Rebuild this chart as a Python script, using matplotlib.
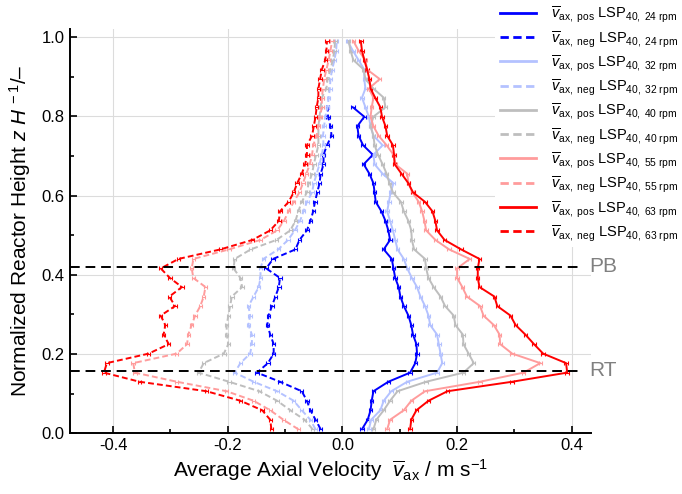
import matplotlib
matplotlib.use("Agg")
import matplotlib.pyplot as plt
from matplotlib.ticker import MultipleLocator

plt.rcParams['font.family'] = ['Liberation Sans', 'DejaVu Sans']
plt.rcParams['mathtext.fontset'] = 'custom'
plt.rcParams['mathtext.rm'] = 'Liberation Sans'
plt.rcParams['mathtext.it'] = 'Liberation Sans:italic'
plt.rcParams['mathtext.bf'] = 'Liberation Sans:bold'

# normalized heights of measurement planes
z = [0.010, 0.034, 0.058, 0.082, 0.106, 0.130, 0.153, 0.177, 0.201, 0.225,
     0.249, 0.273, 0.297, 0.321, 0.345, 0.369, 0.392, 0.416, 0.440, 0.464,
     0.488, 0.512, 0.536, 0.560, 0.584, 0.608, 0.631, 0.655, 0.679, 0.703,
     0.727, 0.751, 0.775, 0.799, 0.823, 0.847, 0.870, 0.894, 0.918, 0.942,
     0.966, 0.990]

pos24 = [0.034, 0.044, 0.049, 0.051, 0.054, 0.080, 0.118, 0.127, 0.130, 0.129,
         0.123, 0.120, 0.115, 0.107, 0.101, 0.098, 0.092, 0.089, 0.086, 0.072,
         0.083, 0.080, 0.075, 0.068, 0.058, 0.056, 0.054, 0.047, 0.037, 0.053,
         0.036, 0.028, 0.026, 0.038, 0.018]
neg24 = [-0.038, -0.047, -0.056, -0.062, -0.071, -0.109, -0.149, -0.130, -0.120, -0.120,
         -0.126, -0.131, -0.129, -0.123, -0.117, -0.111, -0.109, -0.133, -0.121, -0.082,
         -0.075, -0.062, -0.056, -0.051, -0.048, -0.044, -0.040, -0.038, -0.033, -0.033,
         -0.027, -0.019, -0.021, -0.025, -0.026]
pos32 = [0.046, 0.050, 0.066, 0.072, 0.085, 0.113, 0.165, 0.174, 0.171, 0.168,
         0.165, 0.153, 0.150, 0.144, 0.136, 0.130, 0.121, 0.113, 0.107, 0.096,
         0.092, 0.088, 0.083, 0.078, 0.081, 0.084, 0.089, 0.070, 0.056, 0.054,
         0.070, 0.054, 0.049, 0.046, 0.040, 0.034, 0.040, 0.038, 0.038, 0.028,
         0.018, 0.009]
neg32 = [-0.047, -0.056, -0.071, -0.085, -0.114, -0.155, -0.188, -0.178, -0.161, -0.158,
         -0.158, -0.164, -0.161, -0.164, -0.155, -0.146, -0.143, -0.143, -0.138, -0.112,
         -0.095, -0.083, -0.074, -0.068, -0.062, -0.053, -0.050, -0.045, -0.040, -0.036,
         -0.033, -0.034, -0.032, -0.030, -0.026, -0.024, -0.022, -0.021, -0.018, -0.014,
         -0.011, -0.010]
pos40 = [0.054, 0.059, 0.072, 0.083, 0.096, 0.146, 0.211, 0.229, 0.220, 0.211,
         0.210, 0.197, 0.194, 0.179, 0.171, 0.159, 0.150, 0.146, 0.144, 0.125,
         0.121, 0.120, 0.115, 0.107, 0.102, 0.088, 0.082, 0.077, 0.070, 0.062,
         0.056, 0.054, 0.049, 0.054, 0.075, 0.072, 0.054, 0.040, 0.037, 0.019,
         0.014, 0.011]
neg40 = [-0.052, -0.066, -0.091, -0.114, -0.145, -0.198, -0.251, -0.242, -0.207, -0.199,
         -0.202, -0.202, -0.199, -0.196, -0.193, -0.175, -0.178, -0.190, -0.188, -0.160,
         -0.115, -0.091, -0.082, -0.077, -0.071, -0.062, -0.059, -0.053, -0.050, -0.046,
         -0.042, -0.042, -0.042, -0.040, -0.038, -0.036, -0.028, -0.026, -0.021, -0.017,
         -0.014, -0.013]
pos55 = [0.078, 0.083, 0.107, 0.120, 0.144, 0.240, 0.316, 0.345, 0.296, 0.275,
         0.274, 0.264, 0.246, 0.240, 0.217, 0.209, 0.200, 0.200, 0.222, 0.186,
         0.162, 0.146, 0.143, 0.139, 0.133, 0.122, 0.115, 0.113, 0.092, 0.089,
         0.077, 0.063, 0.054, 0.049, 0.051, 0.054, 0.046, 0.065, 0.043, 0.040,
         0.028, 0.019]
neg55 = [-0.077, -0.103, -0.126, -0.155, -0.202, -0.289, -0.362, -0.365, -0.289, -0.271,
         -0.269, -0.263, -0.257, -0.248, -0.242, -0.239, -0.260, -0.263, -0.260, -0.198,
         -0.143, -0.114, -0.102, -0.094, -0.085, -0.075, -0.069, -0.063, -0.057, -0.053,
         -0.051, -0.045, -0.042, -0.039, -0.036, -0.036, -0.034, -0.032, -0.028, -0.024,
         -0.021, -0.018]
pos63 = [0.118, 0.120, 0.129, 0.150, 0.183, 0.296, 0.392, 0.390, 0.350, 0.334,
         0.319, 0.302, 0.293, 0.270, 0.265, 0.239, 0.236, 0.236, 0.239, 0.207,
         0.178, 0.165, 0.162, 0.157, 0.144, 0.123, 0.115, 0.103, 0.091, 0.090,
         0.088, 0.078, 0.075, 0.069, 0.066, 0.057, 0.049, 0.047, 0.043, 0.038,
         0.034, 0.032]
neg63 = [-0.124, -0.126, -0.140, -0.178, -0.237, -0.354, -0.416, -0.411, -0.338, -0.303,
         -0.312, -0.309, -0.317, -0.292, -0.302, -0.280, -0.301, -0.317, -0.286, -0.213,
         -0.157, -0.126, -0.111, -0.109, -0.094, -0.085, -0.079, -0.071, -0.065, -0.062,
         -0.062, -0.053, -0.050, -0.047, -0.045, -0.042, -0.042, -0.039, -0.036, -0.030,
         -0.028, -0.027]

speeds = ['24', '32', '40', '55', '63']
pos_series = [pos24, pos32, pos40, pos55, pos63]
neg_series = [neg24, neg32, neg40, neg55, neg63]
colors = ['#0000FF', '#B4C2FF', '#BEBEBE', '#FF9C9C', '#FF0000']
err = 0.003  # typical half-width of the error bars

z_pb = 0.42
z_rt = 0.158

fig = plt.figure(figsize=(6.82, 4.94), dpi=100)
ax = fig.add_axes([0.102, 0.123, 0.765, 0.818])

handles = []
labels = []
for sp, p, n, c in zip(speeds, pos_series, neg_series, colors):
    zp = z[:len(p)]
    zn = z[:len(n)]
    ax.errorbar(p, zp, xerr=err, color=c, lw=1.4, elinewidth=0.8,
                capsize=1.5, capthick=0.8, ls='-')
    ax.errorbar(n, zn, xerr=err, color=c, lw=1.4, elinewidth=0.8,
                capsize=1.5, capthick=0.8, ls=(0, (3, 1.6)))
    lp, = ax.plot([], [], color=c, lw=2.0, ls='-')
    ln, = ax.plot([], [], color=c, lw=2.0, ls=(0, (3, 1.6)))
    handles += [lp, ln]
    labels += [r'$\overline{v}_{\mathrm{ax,\ pos}}$ LSP$_{\mathrm{40,\ ' + sp + r'\ rpm}}$',
               r'$\overline{v}_{\mathrm{ax,\ neg}}$ LSP$_{\mathrm{40,\ ' + sp + r'\ rpm}}$']

ax.axhline(z_pb, xmin=0, xmax=0.978, color='black', lw=1.4, ls=(0, (5, 3)), zorder=5)
ax.axhline(z_rt, xmin=0, xmax=0.978, color='black', lw=1.4, ls=(0, (5, 3)), zorder=5)
ax.text(0.431, z_pb, 'PB', color='#808080', fontsize=15, va='center', ha='left', clip_on=False)
ax.text(0.431, z_rt, 'RT', color='#808080', fontsize=15, va='center', ha='left', clip_on=False)

ax.set_xlim(-0.476, 0.434)
ax.set_ylim(0, 1.02)
ax.xaxis.set_major_locator(MultipleLocator(0.2))
ax.xaxis.set_minor_locator(MultipleLocator(0.1))
ax.yaxis.set_major_locator(MultipleLocator(0.2))
ax.yaxis.set_minor_locator(MultipleLocator(0.1))
ax.xaxis.set_major_formatter(matplotlib.ticker.FormatStrFormatter('%.1f'))
ax.yaxis.set_major_formatter(matplotlib.ticker.FormatStrFormatter('%.1f'))
ax.tick_params(which='both', direction='in', top=False, right=False, labelsize=12, width=1.2)
ax.tick_params(which='major', length=5)
ax.tick_params(which='minor', length=3)
ax.grid(True, which='major', color='#DCDCDC', lw=0.8)
ax.set_axisbelow(True)
for s in ['top', 'right']:
    ax.spines[s].set_visible(False)
for s in ['left', 'bottom']:
    ax.spines[s].set_linewidth(1.4)

ax.set_xlabel(r'Average Axial Velocity  $\overline{v}_{\mathrm{ax}}$ / m s$^{-1}$', fontsize=15, labelpad=3)
ax.set_ylabel(r'Normalized Reactor Height $z\ H^{\,-1}$/–', fontsize=15, labelpad=6)

leg = fig.legend(handles, labels, loc='upper left', bbox_to_anchor=(0.726, 1.0),
                 fontsize=10.5, frameon=True, framealpha=1, facecolor='white',
                 edgecolor='none', fancybox=False, borderpad=0.3, borderaxespad=0,
                 handlelength=2.5, handletextpad=1.0, labelspacing=0.3)

fig.savefig('out.png', dpi=100)
